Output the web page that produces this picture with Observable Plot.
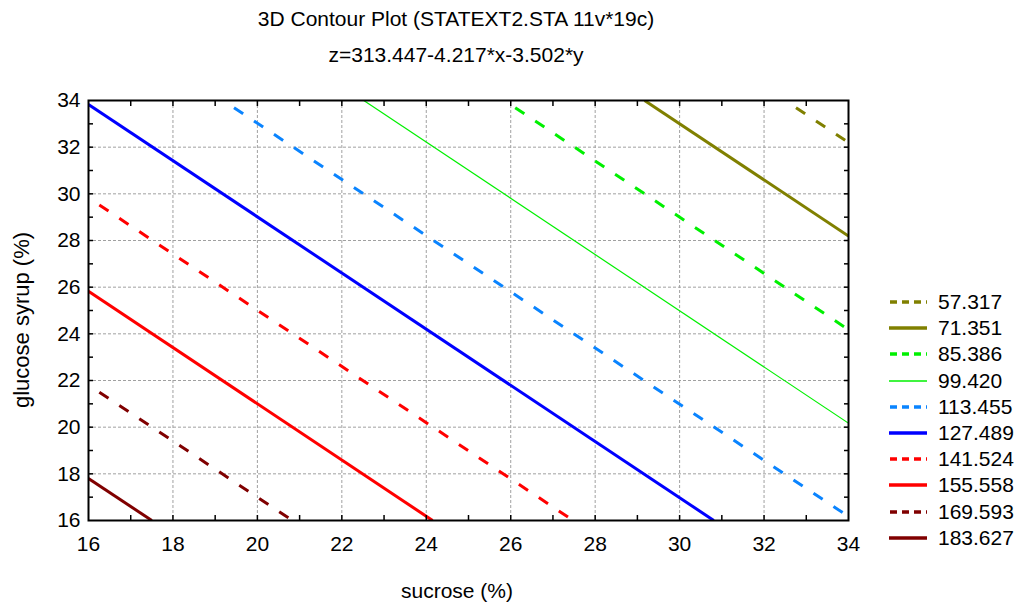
<!DOCTYPE html>
<html>
<head>
<meta charset="utf-8">
<script src="https://cdn.jsdelivr.net/npm/d3@7"></script>
<script src="https://cdn.jsdelivr.net/npm/@observablehq/plot@0.6"></script>
<style>
  body { margin: 0; background: #fff; font-family: "Liberation Sans", Arial, sans-serif; color: #000; }
  #wrap { position: relative; width: 1020px; height: 605px; overflow: hidden; background: #fff; }
  .t { position: absolute; white-space: nowrap; font-size: 21px; line-height: 21px; }
  #chart { position: absolute; left: 0; top: 80px; }
  #legend { position: absolute; left: 889px; top: 289px; }
  .row { display: flex; align-items: center; height: 26.2px; font-size: 21px; }
  .row svg { margin-right: 11px; }
</style>
</head>
<body>
<div id="wrap">
  <div class="t" id="title" style="left:456px; top:8px; transform:translateX(-50%);">3D Contour Plot (STATEXT2.STA 11v*19c)</div>
  <div class="t" id="subtitle" style="left:456px; top:44px; transform:translateX(-50%);">z=313.447-4.217*x-3.502*y</div>
  <div id="chart"></div>
  <div class="t" id="xlabel" style="left:457px; top:580px; transform:translateX(-50%);">sucrose (%)</div>
  <div class="t" id="ylabel" style="left:21px; top:320px; font-size:22px; transform:translate(-50%,-50%) rotate(-90deg);">glucose syrup (%)</div>
  <div id="legend"></div>
</div>
<script>
// Contour levels (z values) and the end points of each straight contour line
const levels = [57.317, 71.351, 85.386, 99.420, 113.455, 127.489, 141.524, 155.558, 169.593, 183.627];
const xStart = [32.50, 29.17, 25.85, 22.52, 19.19, 16.00, 16.00, 16.00, 16.00, 16.00];
const yStart = [34.00, 34.00, 34.00, 34.00, 34.00, 33.83, 29.83, 25.82, 21.81, 17.80];
const xEnd   = [34.00, 34.00, 34.00, 34.00, 34.00, 30.81, 27.48, 24.15, 20.83, 17.50];
const yEnd   = [32.20, 28.19, 24.18, 20.17, 16.17, 16.00, 16.00, 16.00, 16.00, 16.00];

// Axis ticks
const xTicks = [16, 18, 20, 22, 24, 26, 28, 30, 32, 34];
const yTicks = [16, 18, 20, 22, 24, 26, 28, 30, 32, 34];
const gridX = [18, 20, 22, 24, 26, 28, 30, 32];
const gridY = [18, 20, 22, 24, 26, 28, 30, 32];
const minorTicks = [17, 18, 19, 20, 21, 22, 23, 24, 25, 26, 27, 28, 29, 30, 31, 32, 33];

// Styles (kept apart from the data)
const lineColors = ["#808000", "#808000", "#00f000", "#00f000", "#0a84ff", "#0000ff", "#ff0000", "#ff0000", "#800000", "#800000"];
const isDashed   = [true, false, true, false, true, false, true, false, true, false];
const lineWidths = [3, 3, 3, 1.2, 3, 3, 3, 3, 3, 3];

const rows = levels.map((z, i) => ({
  z, x1: xStart[i], y1: yStart[i], x2: xEnd[i], y2: yEnd[i],
  color: lineColors[i], dashed: isDashed[i], width: lineWidths[i]
}));

const font = '"Liberation Sans", Arial, sans-serif';
const chart = Plot.plot({
  width: 870,
  height: 525,
  marginTop: 20,
  marginLeft: 88,
  marginRight: 22,
  marginBottom: 85,
  style: { fontFamily: font, fontSize: "21px", color: "#000", background: "transparent", overflow: "visible" },
  x: { domain: [16, 34], label: null },
  y: { domain: [16, 34], label: null },
  marks: [
    Plot.gridX(gridX, { stroke: "#a0a0a0", strokeOpacity: 1, strokeDasharray: "3,2" }),
    Plot.gridY(gridY, { stroke: "#a0a0a0", strokeOpacity: 1, strokeDasharray: "3,2" }),
    Plot.link(rows.filter(d => !d.dashed), {
      x1: "x1", y1: "y1", x2: "x2", y2: "y2",
      stroke: "color", strokeWidth: "width", clip: true
    }),
    Plot.link(rows.filter(d => d.dashed), {
      x1: "x1", y1: "y1", x2: "x2", y2: "y2",
      stroke: "color", strokeWidth: "width", strokeDasharray: "11,13", strokeDashoffset: 11, clip: true
    }),
    Plot.axisX({ anchor: "bottom", ticks: xTicks, tickSize: 0, tickPadding: 16, label: null }),
    Plot.axisY({ anchor: "left", ticks: yTicks, tickSize: 0, tickPadding: 8, label: null }),
    Plot.axisX({ anchor: "bottom", ticks: minorTicks, tickSize: 5, dy: -5, fill: "none", strokeWidth: 1.5, label: null }),
    Plot.axisX({ anchor: "top", ticks: minorTicks, tickSize: 5, dy: 5, fill: "none", strokeWidth: 1.5, label: null }),
    Plot.axisY({ anchor: "left", ticks: minorTicks, tickSize: 5, dx: 5, fill: "none", strokeWidth: 1.5, label: null }),
    Plot.axisY({ anchor: "right", ticks: minorTicks, tickSize: 5, dx: -5, fill: "none", strokeWidth: 1.5, label: null }),
    Plot.frame({ stroke: "#000", strokeWidth: 2 })
  ]
});
document.getElementById("chart").appendChild(chart);

// Legend
const legend = document.getElementById("legend");
rows.forEach(d => {
  const row = document.createElement("div");
  row.className = "row";
  const ns = "http://www.w3.org/2000/svg";
  const s = document.createElementNS(ns, "svg");
  s.setAttribute("width", "38");
  s.setAttribute("height", "10");
  const l = document.createElementNS(ns, "line");
  l.setAttribute("x1", "0"); l.setAttribute("x2", "38");
  l.setAttribute("y1", "5"); l.setAttribute("y2", "5");
  l.setAttribute("stroke", d.color);
  l.setAttribute("stroke-width", d.width < 2 ? 1.5 : 3.5);
  if (d.dashed) { l.setAttribute("stroke-dasharray", "7,5"); l.setAttribute("stroke-dashoffset", "-1"); }
  s.appendChild(l);
  row.appendChild(s);
  const t = document.createElement("span");
  t.textContent = d.z.toFixed(3);
  row.appendChild(t);
  legend.appendChild(row);
});
</script>
</body>
</html>
